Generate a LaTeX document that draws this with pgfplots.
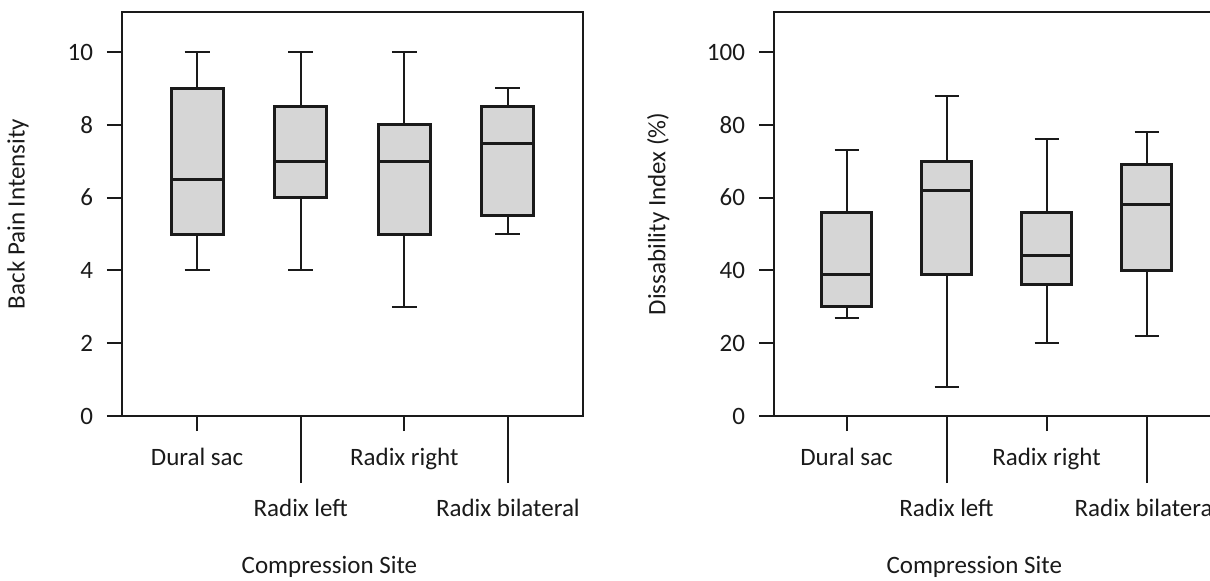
\documentclass[border=0pt]{standalone}
\usepackage{fontspec}
\setmainfont{Carlito}
\usepackage{pgfplots}
\pgfplotsset{compat=1.18}
\usepgfplotslibrary{statistics}
\definecolor{boxfill}{HTML}{D6D6D6}
\definecolor{ink}{HTML}{1A1A1A}

\pgfplotsset{
  sitebox/.style={
    scale only axis,
    height=202pt,
    xmin=0.275, xmax=4.725, ymin=0,
    axis line style={line width=1pt, ink},
    tick pos=left,
    tick align=outside,
    major tick style={line width=1pt, ink},
    major tick length=7.5pt,
    xtick={1,3},
    xticklabels={Dural sac, Radix right},
    extra x ticks={2,4},
    extra x tick labels={Radix left, Radix bilateral},
    extra x tick style={major tick length=33.5pt, xticklabel style={yshift=0.5pt}},
    xticklabel style={anchor=center, text height=1.6ex, text depth=0.4ex, yshift=-14.5pt},
    yticklabel style={xshift=-3.5pt},
    tick label style={font=\fontsize{12.5}{14}\selectfont, text=ink},
    label style={font=\fontsize{12.5}{14}\selectfont, text=ink},
    /pgf/number format/assume math mode=true,
    xlabel={Compression Site},
    xlabel style={at={(axis description cs:0.45,-0.374)}, anchor=center},
    boxplot/draw direction=y,
    boxplot/every box/.style={line width=1.5pt, draw=ink, fill=boxfill},
    boxplot/every whisker/.style={line width=1pt, draw=ink},
    boxplot/every median/.style={line width=1.5pt, draw=ink},
    boxplot/box extend=0.5,
    boxplot/whisker extend=0.24,
  }
}

\begin{document}
\begin{tikzpicture}
% back pain
\begin{axis}[sitebox,
  at={(61pt,82pt)}, anchor=south west,
  width=230.5pt,
  ymax=11.1, ytick={0,2,4,6,8,10},
  ylabel={Back Pain Intensity},
  ylabel style={at={(axis description cs:-0.2256,0.5)}, anchor=center}]
  \addplot[draw=ink, boxplot prepared={draw position=1, lower whisker=4, lower quartile=5, median=6.5, upper quartile=9, upper whisker=10}] coordinates {};
  \addplot[draw=ink, boxplot prepared={draw position=2, lower whisker=4, lower quartile=6, median=7, upper quartile=8.5, upper whisker=10}] coordinates {};
  \addplot[draw=ink, boxplot prepared={draw position=3, lower whisker=3, lower quartile=5, median=7, upper quartile=8, upper whisker=10}] coordinates {};
  \addplot[draw=ink, boxplot prepared={draw position=4, lower whisker=5, lower quartile=5.5, median=7.5, upper quartile=8.5, upper whisker=9}] coordinates {};
\end{axis}
% disability
\begin{axis}[sitebox,
  at={(387pt,82pt)}, anchor=south west,
  width=222.5pt,
  ymax=111, ytick={0,20,40,60,80,100},
  ylabel={Dissability Index (\%)},
  ylabel style={at={(axis description cs:-0.26,0.5)}, anchor=center}]
  \addplot[draw=ink, boxplot prepared={draw position=1, lower whisker=27, lower quartile=30, median=39, upper quartile=56, upper whisker=73}] coordinates {};
  \addplot[draw=ink, boxplot prepared={draw position=2, lower whisker=8, lower quartile=39, median=62, upper quartile=70, upper whisker=88}] coordinates {};
  \addplot[draw=ink, boxplot prepared={draw position=3, lower whisker=20, lower quartile=36, median=44, upper quartile=56, upper whisker=76}] coordinates {};
  \addplot[draw=ink, boxplot prepared={draw position=4, lower whisker=22, lower quartile=40, median=58, upper quartile=69, upper whisker=78}] coordinates {};
\end{axis}
\pgfresetboundingbox
\path[use as bounding box] (0,0) rectangle (605pt,290pt);
\end{tikzpicture}
\end{document}
